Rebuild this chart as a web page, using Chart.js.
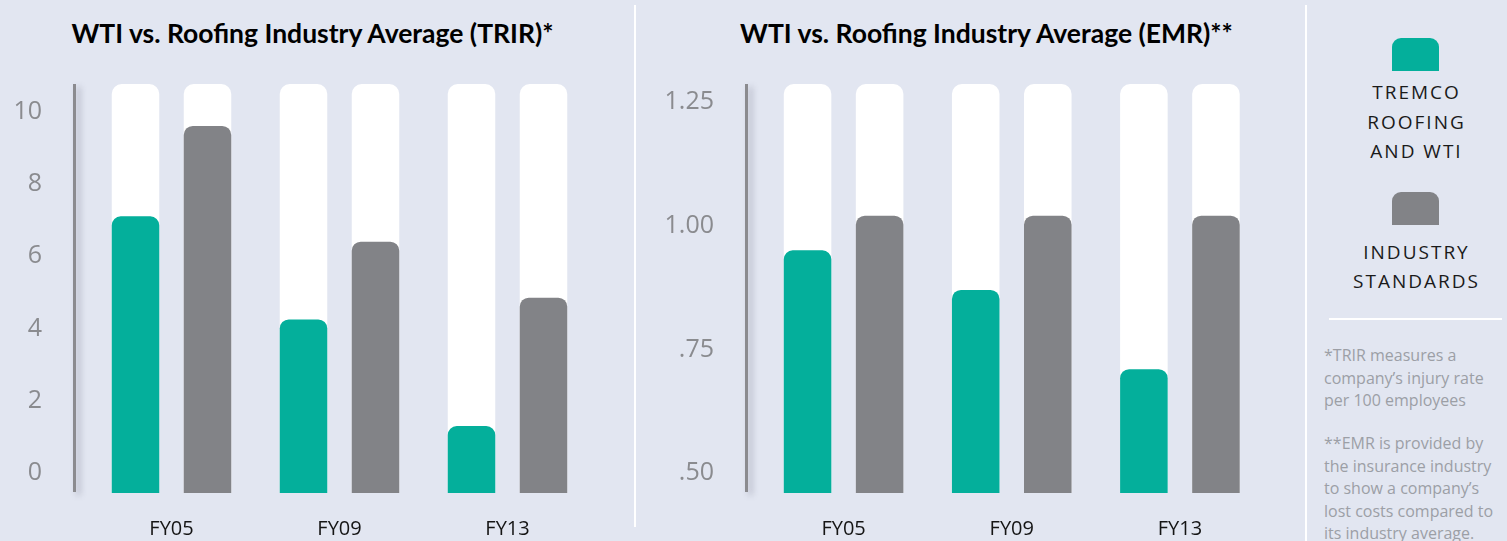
<!DOCTYPE html>
<html>
<head>
<meta charset="utf-8">
<script src="https://cdn.jsdelivr.net/npm/chart.js@4.4.1/dist/chart.umd.min.js"></script>
<style>
  html, body { margin: 0; padding: 0; }
  body {
    width: 1507px; height: 541px; position: relative; overflow: hidden;
    background: #e2e6f1; font-family: "Open Sans", sans-serif;
  }
  .box { position: absolute; top: 0; height: 541px; }
  #trirBox { left: 0; width: 635px; }
  #emrBox { left: 637px; width: 669px; }
  .title {
    position: absolute; top: 17.5px; text-align: center; white-space: nowrap;
    font-family: Lato, sans-serif; font-weight: bold; font-size: 26.5px; line-height: 30px; color: #000;
  }
  .sep { position: absolute; width: 2px; background: #fff; }
  #legend { position: absolute; left: 1329px; top: 38px; width: 173px; text-align: center; }
  .swatch { width: 47px; height: 33px; margin: 0 auto; border-radius: 9px 9px 0 0; }
  .name {
    font-size: 19px; line-height: 29.5px; letter-spacing: 2px; padding-left: 2px;
    color: #1a1a1a; white-space: pre-line;
  }
  #rule { position: absolute; left: 1329px; top: 318px; width: 173px; height: 2px; background: #fff; }
  #notes { position: absolute; left: 1324px; top: 344px; width: 183px; font-size: 16px; line-height: 22.5px; color: #9c9fa6; white-space: nowrap; }
  #notes p { margin: 0 0 20.5px 0; }
</style>
</head>
<body>
<div class="title" style="left:0; width:625px">WTI vs. Roofing Industry Average (TRIR)*</div>
<div class="title" style="left:637px; width:699px">WTI vs. Roofing Industry Average (EMR)**</div>
<div class="box" id="trirBox"><canvas id="trirChart"></canvas></div>
<div class="box" id="emrBox"><canvas id="emrChart"></canvas></div>
<div class="sep" style="left:634px; top:5px; height:522px"></div>
<div class="sep" style="left:1305px; top:5px; height:536px"></div>
<div id="legend"></div>
<div id="rule"></div>
<div id="notes">
  <p>*TRIR measures a<br>company’s injury rate<br>per 100 employees</p>
  <p>**EMR is provided by<br>the insurance industry<br>to show a company’s<br>lost costs compared to<br>its industry average.</p>
</div>
<script>
const years = ["FY05", "FY09", "FY13"];
const seriesNames = ["TREMCO\nROOFING\nAND WTI", "INDUSTRY\nSTANDARDS"];
const seriesColors = ["#04af9b", "#828387"];

// TRIR chart
const trirTremco = [7.1, 4.25, 1.3];
const trirIndustry = [9.6, 6.4, 4.85];
const trirTicks = [0, 2, 4, 6, 8, 10];

// EMR chart
const emrTremco = [0.95, 0.87, 0.71];
const emrIndustry = [1.02, 1.02, 1.02];
const emrTicks = [0.5, 0.75, 1.0, 1.25];
const emrTickLabels = [".50", ".75", "1.00", "1.25"];

Chart.defaults.font.family = "'Open Sans', sans-serif";

// grey axis line with a soft shadow, drawn a bit left of the bars
const axisLine = {
  id: "axisLine",
  beforeDatasetsDraw(chart) {
    const { ctx, chartArea } = chart;
    const x = chartArea.left - 13;
    ctx.save();
    ctx.strokeStyle = "#8b8b8f";
    ctx.lineWidth = 3;
    ctx.shadowColor = "rgba(70,70,95,0.35)";
    ctx.shadowBlur = 6;
    ctx.shadowOffsetX = 4;
    ctx.shadowOffsetY = 3;
    ctx.beginPath();
    ctx.moveTo(x, chartArea.top);
    ctx.lineTo(x, chartArea.bottom - 1);
    ctx.stroke();
    ctx.restore();
  },
};

function makeChart(id, tremco, industry, ticks, tickLabel, yMin, yMax, yWidth, padRight) {
  const ctx = document.getElementById(id).getContext("2d");
  const track = years.map(() => yMax);
  // white tracks share a stack slot with their bar, so they sit right behind it
  return new Chart(ctx, {
    type: "bar",
    data: {
      labels: years,
      datasets: [
        { label: seriesNames[0], data: tremco, backgroundColor: seriesColors[0], borderRadius: 9, base: yMin, stack: "a", order: 1 },
        { label: seriesNames[1], data: industry, backgroundColor: seriesColors[1], borderRadius: 9, base: yMin, stack: "b", order: 1 },
        { data: track, backgroundColor: "#ffffff", borderRadius: 10, base: yMin, stack: "a", order: 2 },
        { data: track, backgroundColor: "#ffffff", borderRadius: 10, base: yMin, stack: "b", order: 2 },
      ],
    },
    options: {
      responsive: true,
      maintainAspectRatio: false,
      animation: false,
      datasets: { bar: { categoryPercentage: 0.857, barPercentage: 0.66 } },
      layout: { padding: { left: 0, right: padRight, top: 84, bottom: 0 } },
      plugins: {
        legend: { display: false },
        tooltip: { enabled: false },
      },
      scales: {
        x: {
          grid: { display: false, drawTicks: false },
          border: { display: false },
          ticks: { color: "#151515", font: { size: 20 }, padding: 24 },
          afterFit: (s) => { s.height = 48; },
        },
        y: {
          min: yMin,
          max: yMax,
          stacked: false,
          grid: { display: false, drawTicks: false },
          border: { display: false },
          afterBuildTicks: (s) => { s.ticks = ticks.map((v) => ({ value: v })); },
          ticks: { color: "#8a8b8f", font: { size: 25 }, padding: 45.5, callback: tickLabel },
          afterFit: (s) => {
            s.width = yWidth;
            s.paddingTop = 0;
            s.paddingBottom = 0;
          },
        },
      },
    },
    plugins: [axisLine],
  });
}

makeChart("trirChart", trirTremco, trirIndustry, trirTicks, (v) => String(v),
  -0.55, 10.76, 87.5, 43.5);

makeChart("emrChart", emrTremco, emrIndustry, emrTicks, (v, i) => emrTickLabels[i],
  0.46, 1.286, 122.5, 42);

// legend
const legend = document.getElementById("legend");
seriesNames.forEach((name, i) => {
  const sw = document.createElement("div");
  sw.className = "swatch";
  sw.style.background = seriesColors[i];
  sw.style.marginTop = i === 0 ? "0px" : "25.5px";
  const txt = document.createElement("div");
  txt.className = "name";
  txt.textContent = name;
  txt.style.marginTop = i === 0 ? "7px" : "12.5px";
  legend.appendChild(sw);
  legend.appendChild(txt);
});
</script>
</body>
</html>
